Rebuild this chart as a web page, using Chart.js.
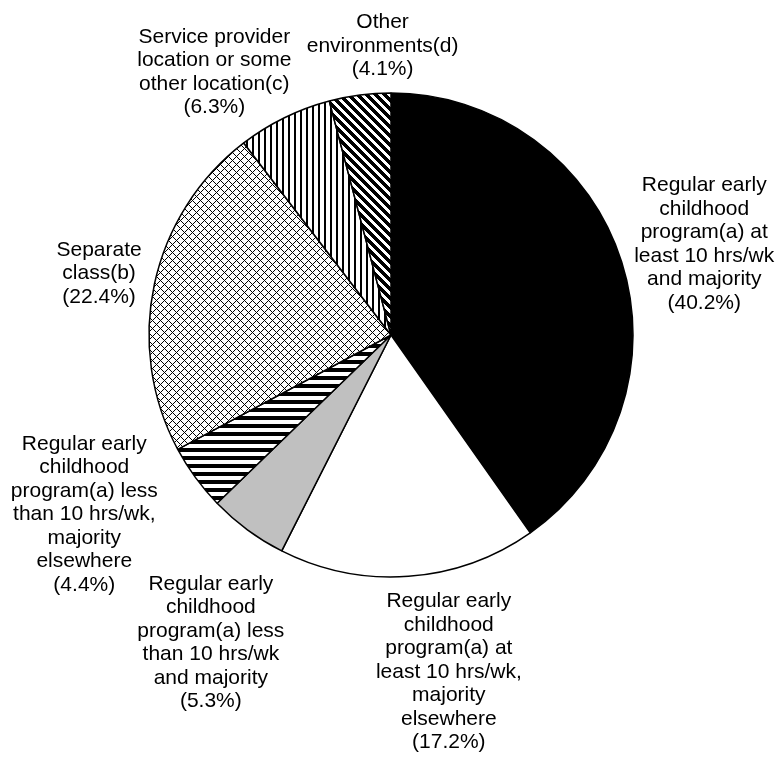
<!DOCTYPE html>
<html>
<head>
<meta charset="utf-8">
<title>Early childhood settings</title>
<script src="https://cdn.jsdelivr.net/npm/chart.js@4.4.1/dist/chart.umd.min.js"></script>
<style>
    html, body { margin: 0; padding: 0; background: #fff; }
    #wrap { width: 782px; height: 759px; }
</style>
</head>
<body>
<div id="wrap"><canvas id="pie" width="782" height="759"></canvas></div>
<script>
(function () {
    'use strict';

    // Slices, clockwise from 12 o'clock
    var CATEGORIES = [
        'Regular early childhood program(a) at least 10 hrs/wk and majority',
        'Regular early childhood program(a) at least 10 hrs/wk, majority elsewhere',
        'Regular early childhood program(a) less than 10 hrs/wk and majority',
        'Regular early childhood program(a) less than 10 hrs/wk, majority elsewhere',
        'Separate class(b)',
        'Service provider location or some other location(c)',
        'Other environments(d)',
    ];

    var PERCENTS = [40.2, 17.2, 5.3, 4.4, 22.4, 6.3, 4.1];

    // Category names as they wrap in the labels
    var LABEL_LINES = [
        ['Regular early', 'childhood', 'program(a) at', 'least 10 hrs/wk', 'and majority'],
        ['Regular early', 'childhood', 'program(a) at', 'least 10 hrs/wk,', 'majority', 'elsewhere'],
        ['Regular early', 'childhood', 'program(a) less', 'than 10 hrs/wk', 'and majority'],
        ['Regular early', 'childhood', 'program(a) less', 'than 10 hrs/wk,', 'majority', 'elsewhere'],
        ['Separate', 'class(b)'],
        ['Service provider', 'location or some', 'other location(c)'],
        ['Other', 'environments(d)'],
    ];

    // Label nudges [along radius, along tangent] in px, to keep them apart
    var LABEL_NUDGE = [[0, 8], [2, -34], [27, -39], [21, 40], [0, 0], [5, -31], [-4, 34]];

    var FONT = '21px "Liberation Sans", Arial, sans-serif';
    var LINE_H = 23.5;
    var LABEL_GAP = 14;

    // Build a 1-bit fill pattern tile
    function makePattern(size, ink) {
        var c = document.createElement('canvas');
        c.width = size;
        c.height = size;
        var g = c.getContext('2d');
        g.fillStyle = '#fff';
        g.fillRect(0, 0, size, size);
        g.fillStyle = '#000';
        for (var y = 0; y < size; y++) {
            for (var x = 0; x < size; x++) {
                if (ink(x, y)) g.fillRect(x, y, 1, 1);
            }
        }
        return g.createPattern(c, 'repeat');
    }

    var fills = [
        '#000000',
        '#ffffff',
        '#c0c0c0',
        makePattern(8, function (x, y) { return y % 8 < 4; }),
        makePattern(8, function (x, y) { return (x + y) % 8 === 0 || ((x - y) + 8) % 8 === 0; }),
        makePattern(6, function (x, y) { return x % 6 < 2; }),
        makePattern(9, function (x, y) { return ((x - y) + 9) % 9 < 5; }),
    ];

    var sliceLabels = {
        id: 'sliceLabels',
        afterDatasetsDraw: function (chart) {
            var ctx = chart.ctx;
            var arcs = chart.getDatasetMeta(0).data;
            ctx.save();
            ctx.font = FONT;
            ctx.fillStyle = '#000';
            ctx.textAlign = 'center';
            ctx.textBaseline = 'middle';
            arcs.forEach(function (arc, i) {
                var p = arc.getProps(['x', 'y', 'startAngle', 'endAngle', 'outerRadius'], true);
                var mid = (p.startAngle + p.endAngle) / 2;
                var ux = Math.cos(mid), uy = Math.sin(mid);
                var vx = -uy, vy = ux;
                var lines = LABEL_LINES[i].concat(['(' + PERCENTS[i].toFixed(1) + '%)']);
                var w = 0;
                lines.forEach(function (t) { w = Math.max(w, ctx.measureText(t).width); });
                var h = lines.length * LINE_H;
                var r = p.outerRadius + LABEL_GAP + LABEL_NUDGE[i][0];
                var cx = p.x + r * ux + ux * w / 2 + LABEL_NUDGE[i][1] * vx;
                var cy = p.y + r * uy + uy * h / 2 + LABEL_NUDGE[i][1] * vy;
                lines.forEach(function (t, k) {
                    ctx.fillText(t, cx, cy - h / 2 + LINE_H * (k + 0.5));
                });
            });
            ctx.restore();
        },
    };

    new Chart(document.getElementById('pie'), {
        type: 'pie',
        data: {
            labels: CATEGORIES,
            datasets: [{
                data: PERCENTS,
                backgroundColor: fills,
                borderColor: '#000',
                borderWidth: 1.5,
                radius: 242,
            }],
        },
        options: {
            responsive: false,
            animation: false,
            events: [],
            layout: { padding: { top: 93, bottom: 182, left: 149, right: 149 } },
            plugins: {
                legend: { display: false },
                tooltip: { enabled: false },
            },
        },
        plugins: [sliceLabels],
    });
})();
</script>
</body>
</html>
